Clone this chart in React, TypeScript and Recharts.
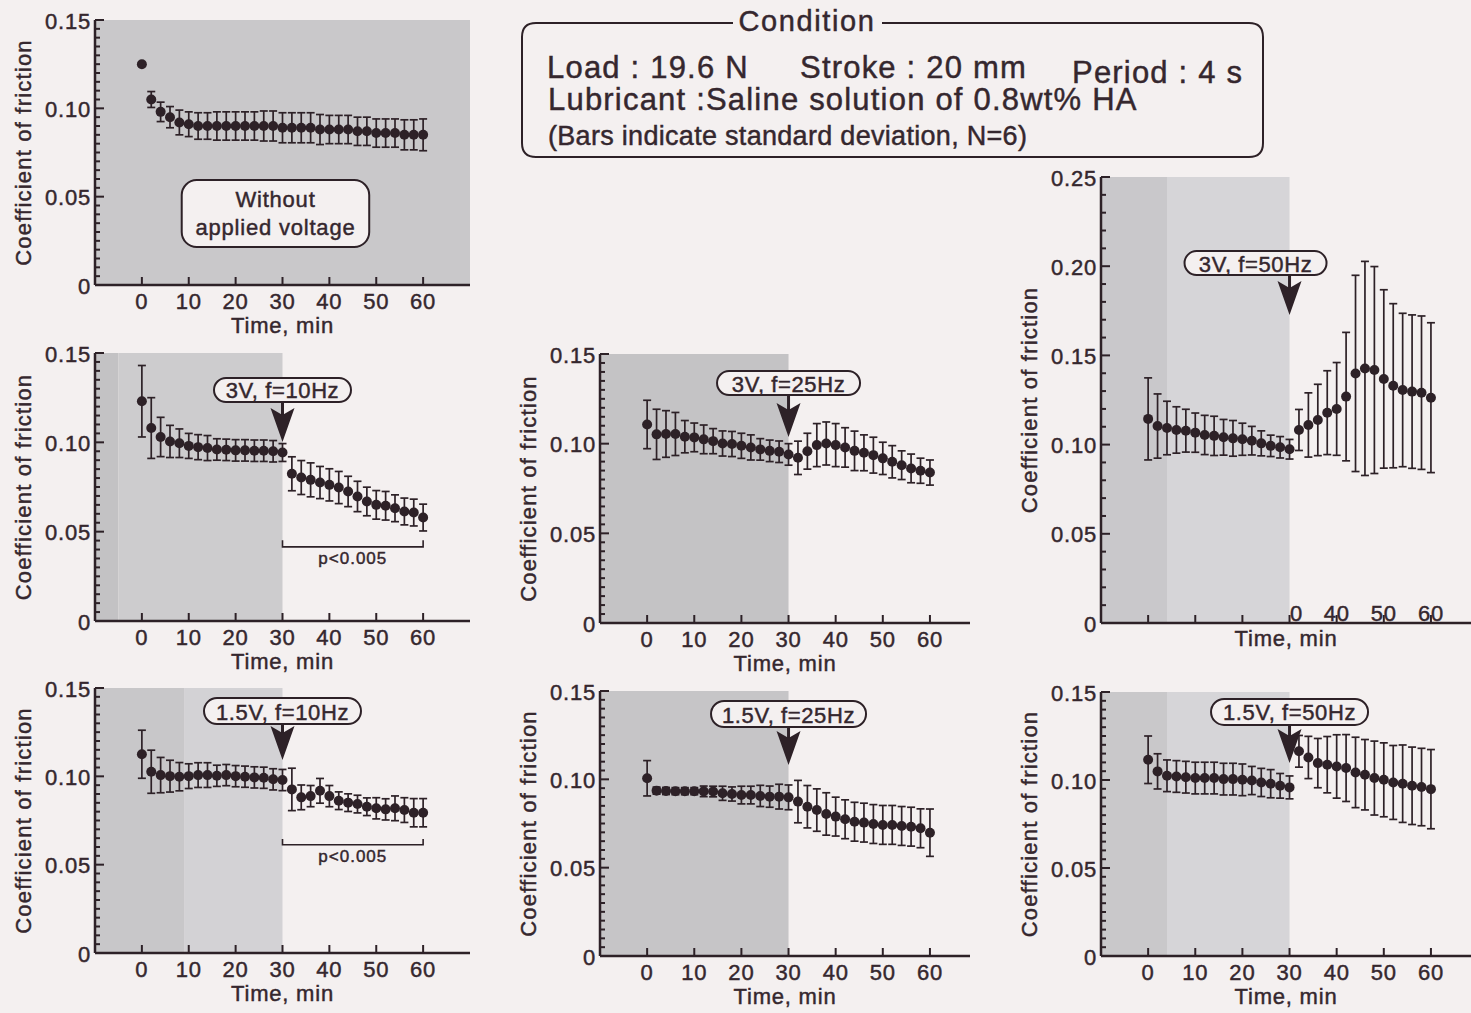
import React from 'react';
import { ComposedChart, Scatter, ErrorBar, XAxis, YAxis, ReferenceArea, ReferenceDot } from 'recharts';

// sampling times (min) shared by every panel
const TIME = [0, 2, 4, 6, 8, 10, 12, 14, 16, 18, 20, 22, 24, 26, 28, 30, 32, 34, 36, 38, 40, 42, 44, 46, 48, 50, 52, 54, 56, 58, 60];
const X_TICKS = [0, 10, 20, 30, 40, 50, 60];
const X_LABELS = ['0', '10', '20', '30', '40', '50', '60'];
// scan of the 3V/50Hz panel only shows part of the time labels
const X_LABELS_CUT = ['', '', '', '0', '40', '50', '60'];

// without applied voltage
const NONE_MEAN = [0.125, 0.105, 0.098, 0.095, 0.092, 0.091, 0.090, 0.090, 0.090, 0.090, 0.090, 0.090, 0.090, 0.090, 0.090, 0.089, 0.089, 0.089, 0.089, 0.088, 0.088, 0.088, 0.088, 0.087, 0.087, 0.086, 0.086, 0.086, 0.085, 0.085, 0.085];
const NONE_SD = [0.001, 0.0045, 0.0055, 0.006, 0.007, 0.007, 0.0075, 0.0075, 0.008, 0.008, 0.008, 0.008, 0.008, 0.0085, 0.0085, 0.0085, 0.0085, 0.0085, 0.0085, 0.0085, 0.008, 0.008, 0.008, 0.008, 0.008, 0.008, 0.008, 0.008, 0.0085, 0.0085, 0.009];

// 3V
const V3_F10_MEAN = [0.123, 0.108, 0.103, 0.1005, 0.0995, 0.098, 0.0973, 0.0968, 0.096, 0.0958, 0.0955, 0.0955, 0.0953, 0.0953, 0.095, 0.0943, 0.0824, 0.0803, 0.079, 0.0775, 0.0762, 0.0747, 0.0725, 0.0697, 0.0669, 0.065, 0.0645, 0.0631, 0.0613, 0.0607, 0.0579];
const V3_F10_SD = [0.02, 0.017, 0.011, 0.009, 0.008, 0.007, 0.007, 0.007, 0.006, 0.006, 0.006, 0.006, 0.006, 0.006, 0.006, 0.005, 0.0095, 0.0095, 0.0095, 0.009, 0.009, 0.009, 0.0085, 0.0085, 0.008, 0.008, 0.008, 0.0075, 0.0075, 0.0075, 0.0075];
const V3_F25_MEAN = [0.1107, 0.1052, 0.1054, 0.1054, 0.1039, 0.1035, 0.1024, 0.1014, 0.1001, 0.0998, 0.0988, 0.0979, 0.0968, 0.096, 0.0955, 0.094, 0.0921, 0.0958, 0.0992, 0.1001, 0.0992, 0.0979, 0.096, 0.0949, 0.0936, 0.0918, 0.0899, 0.088, 0.0862, 0.0849, 0.0839];
const V3_F25_SD = [0.0135, 0.014, 0.013, 0.012, 0.009, 0.008, 0.008, 0.007, 0.007, 0.007, 0.007, 0.007, 0.006, 0.006, 0.006, 0.006, 0.0093, 0.01, 0.012, 0.012, 0.012, 0.011, 0.011, 0.01, 0.01, 0.009, 0.009, 0.008, 0.008, 0.007, 0.007];
const V3_F50_MEAN = [0.1144, 0.1104, 0.1093, 0.1082, 0.1078, 0.1067, 0.1054, 0.1049, 0.1041, 0.1035, 0.103, 0.1022, 0.1007, 0.0993, 0.0985, 0.0974, 0.1082, 0.111, 0.1138, 0.1179, 0.12, 0.1269, 0.1399, 0.1427, 0.1418, 0.1368, 0.133, 0.1306, 0.1297, 0.1291, 0.1263];
const V3_F50_SD = [0.023, 0.018, 0.015, 0.013, 0.012, 0.011, 0.011, 0.011, 0.01, 0.01, 0.009, 0.008, 0.007, 0.006, 0.006, 0.0055, 0.0115, 0.018, 0.02, 0.0235, 0.026, 0.036, 0.055, 0.06, 0.058, 0.05, 0.046, 0.043, 0.043, 0.043, 0.042];

// 1.5V
const V15_F10_MEAN = [0.1125, 0.1026, 0.1007, 0.1001, 0.0998, 0.1001, 0.1007, 0.1007, 0.1003, 0.1007, 0.1001, 0.0998, 0.0994, 0.0992, 0.0983, 0.0979, 0.0926, 0.0881, 0.0888, 0.0918, 0.0888, 0.0862, 0.0851, 0.0843, 0.0828, 0.0819, 0.0813, 0.0819, 0.0809, 0.0794, 0.0794];
const V15_F10_SD = [0.0136, 0.0122, 0.01, 0.009, 0.008, 0.007, 0.007, 0.007, 0.006, 0.006, 0.006, 0.006, 0.006, 0.006, 0.006, 0.006, 0.012, 0.007, 0.006, 0.007, 0.006, 0.005, 0.005, 0.005, 0.005, 0.006, 0.006, 0.007, 0.007, 0.008, 0.008];
const V15_F25_MEAN = [0.1006, 0.0936, 0.0934, 0.0933, 0.0933, 0.0933, 0.0932, 0.0931, 0.0921, 0.0917, 0.0911, 0.0911, 0.0906, 0.0902, 0.0902, 0.0898, 0.0874, 0.0845, 0.0826, 0.0804, 0.0789, 0.0774, 0.076, 0.0755, 0.0747, 0.0742, 0.0742, 0.0736, 0.0732, 0.0723, 0.0698];
const V15_F25_SD = [0.01, 0.002, 0.002, 0.002, 0.002, 0.002, 0.003, 0.003, 0.004, 0.004, 0.005, 0.005, 0.006, 0.006, 0.007, 0.007, 0.012, 0.012, 0.012, 0.012, 0.011, 0.011, 0.011, 0.011, 0.011, 0.011, 0.011, 0.011, 0.011, 0.011, 0.0134];
const V15_F50_MEAN = [0.1115, 0.1049, 0.1024, 0.102, 0.1016, 0.1011, 0.1011, 0.1011, 0.1005, 0.1005, 0.1001, 0.0997, 0.0986, 0.0979, 0.0967, 0.0958, 0.1163, 0.1128, 0.1096, 0.1087, 0.1077, 0.1068, 0.1043, 0.103, 0.1011, 0.1001, 0.0986, 0.0979, 0.0967, 0.096, 0.0948];
const V15_F50_SD = [0.0135, 0.01, 0.009, 0.009, 0.009, 0.009, 0.009, 0.009, 0.009, 0.009, 0.009, 0.008, 0.008, 0.008, 0.007, 0.0065, 0.009, 0.012, 0.014, 0.016, 0.018, 0.019, 0.02, 0.02, 0.021, 0.021, 0.021, 0.022, 0.022, 0.022, 0.0225];

const INK = '#2d2127';
const TXT = '#35272e';
const PAGE = '#f4f0f0';
const FONT = '"Liberation Sans", Arial, Helvetica, sans-serif';

const AXW = 100; // room for y ticks + title
const TP = 15;
const RP = 10;
const BP = 64;

type Pill = { label: string; tip: number; dx: number; w: number; h: number; arrow: number };
type Cfg = {
  key: string;
  left: number; top: number; w: number; h: number;
  xMax: number; yMax: number; minor: number;
  mean: number[]; sd: number[];
  shades: [number, number, string][];
  pill?: Pill;
  bracket?: { y: number; top: number };
  note?: boolean;
  rightFrame: boolean;
  xLabels: string[];
  cut?: boolean;
};

const PANELS: Cfg[] = [
  {
    key: 'none', left: 95, top: 20, w: 375, h: 265, xMax: 70, yMax: 0.15, minor: 0.005,
    mean: NONE_MEAN, sd: NONE_SD, shades: [[-10, 70, '#c9c8ca']], note: true,
    rightFrame: true, xLabels: X_LABELS,
  },
  {
    key: '3v10', left: 95, top: 353, w: 375, h: 268, xMax: 70, yMax: 0.15, minor: 0.005,
    mean: V3_F10_MEAN, sd: V3_F10_SD, shades: [[-10, -5, '#c3c2c4'], [-5, 30, '#cdccce']],
    pill: { label: '3V, f=10Hz', tip: 0.1002, dx: 0, w: 137, h: 24, arrow: 40 },
    bracket: { y: 0.0415, top: 0.0452 }, rightFrame: true, xLabels: X_LABELS,
  },
  {
    key: '3v25', left: 600, top: 354, w: 370, h: 269, xMax: 68.5, yMax: 0.15, minor: 0.005,
    mean: V3_F25_MEAN, sd: V3_F25_SD, shades: [[-10, 30, '#c4c3c5']],
    pill: { label: '3V, f=25Hz', tip: 0.1037, dx: 0, w: 143, h: 24, arrow: 42 },
    rightFrame: false, xLabels: X_LABELS,
  },
  {
    key: '3v50', left: 1101, top: 177, w: 370, h: 446, xMax: 68.5, yMax: 0.25, minor: 0.01,
    mean: V3_F50_MEAN, sd: V3_F50_SD, shades: [[-10, 4, '#c9c8cb'], [4, 30, '#d6d5d8']],
    pill: { label: '3V, f=50Hz', tip: 0.1726, dx: -34, w: 142, h: 24, arrow: 40 },
    rightFrame: false, xLabels: X_LABELS_CUT, cut: true,
  },
  {
    key: '15v10', left: 95, top: 688, w: 375, h: 265, xMax: 70, yMax: 0.15, minor: 0.005,
    mean: V15_F10_MEAN, sd: V15_F10_SD, shades: [[-10, 9, '#c8c7c9'], [9, 30, '#d3d2d5']],
    pill: { label: '1.5V, f=10Hz', tip: 0.1092, dx: 0, w: 157, h: 26, arrow: 36 },
    bracket: { y: 0.0613, top: 0.0645 }, rightFrame: true, xLabels: X_LABELS,
  },
  {
    key: '15v25', left: 600, top: 691, w: 370, h: 265, xMax: 68.5, yMax: 0.15, minor: 0.005,
    mean: V15_F25_MEAN, sd: V15_F25_SD, shades: [[-10, 30, '#c6c5c7']],
    pill: { label: '1.5V, f=25Hz', tip: 0.1081, dx: 0, w: 155, h: 26, arrow: 38 },
    rightFrame: false, xLabels: X_LABELS,
  },
  {
    key: '15v50', left: 1101, top: 692, w: 370, h: 264, xMax: 68.5, yMax: 0.15, minor: 0.005,
    mean: V15_F50_MEAN, sd: V15_F50_SD, shades: [[-10, 4, '#c9c8ca'], [4, 30, '#d6d5d8']],
    pill: { label: '1.5V, f=50Hz', tip: 0.1097, dx: 0, w: 157, h: 26, arrow: 38 },
    rightFrame: false, xLabels: X_LABELS,
  },
];

const isMajor = (v: number) => Math.abs(v / 0.05 - Math.round(v / 0.05)) < 1e-6;
const fmtY = (v: number) => (v === 0 ? '0' : v.toFixed(2));

// scanned lettering is a bit heavier than plain regular weight
const txt = (size: number, ls: number) => ({
  fontFamily: FONT, fontSize: size, letterSpacing: ls, fill: TXT, stroke: TXT, strokeWidth: 0.45,
});

function Panel({ c }: { c: Cfg }) {
  const rows = TIME.map((t, i) => ({ t, m: c.mean[i], sd: c.sd[i] }));
  const yTicks = Array.from({ length: Math.round(c.yMax / c.minor) + 1 }, (_, i) => +(i * c.minor).toFixed(4));
  const yMajors = yTicks.filter(isMajor);
  const W = AXW + c.w + RP;
  const H = TP + c.h + BP;
  const axisStroke = { stroke: INK, strokeWidth: 2.5 };

  const bottomTick = (p: any) => {
    const i = X_TICKS.indexOf(p.payload.value);
    const lab = c.xLabels[i];
    const shift = c.cut && lab === '0' ? 7 : 0;
    return (
      <g>
        <line x1={p.x} x2={p.x} y1={p.y} y2={p.y - 8} stroke={INK} strokeWidth={2} />
        {lab ? (
          <text x={p.x + shift} y={c.cut ? p.y - 10 : p.y + 16} textAnchor="middle" dominantBaseline="central" style={txt(22, 0.8)}>
            {lab}
          </text>
        ) : null}
      </g>
    );
  };
  const topTick = (p: any) => <line x1={p.x} x2={p.x} y1={p.y} y2={p.y + 8} stroke={INK} strokeWidth={2} />;
  const leftTick = (p: any) => {
    const v = p.payload.value;
    const major = isMajor(v);
    return (
      <g>
        <line x1={p.x} x2={p.x + (major ? 9 : 5)} y1={p.y} y2={p.y} stroke={INK} strokeWidth={2} />
        {major ? (
          <text x={p.x - 4} y={p.y + 1} textAnchor="end" dominantBaseline="central" style={txt(22, 0.8)}>
            {fmtY(v)}
          </text>
        ) : null}
      </g>
    );
  };
  const rightTick = (p: any) => {
    const major = isMajor(p.payload.value);
    return <line x1={p.x} x2={p.x - (major ? 9 : 5)} y1={p.y} y2={p.y} stroke={INK} strokeWidth={2} />;
  };

  const yTitle = (p: any) => {
    const vb = p.viewBox;
    const cx = vb.x + vb.width - 72;
    const cy = vb.y + vb.height / 2;
    return (
      <text x={cx} y={cy} transform={`rotate(-90 ${cx} ${cy})`} textAnchor="middle" dominantBaseline="central" style={txt(22, 1.2)}>
        Coefficient of friction
      </text>
    );
  };
  const xTitle = (p: any) => {
    const vb = p.viewBox;
    return (
      <text x={vb.x + vb.width / 2} y={vb.y + (c.cut ? 15 : 40)} textAnchor="middle" dominantBaseline="central" style={txt(22, 0.8)}>
        Time, min
      </text>
    );
  };

  const pill = c.pill;
  const pillShape = (p: any) => {
    if (!pill) return <g />;
    const { cx, cy } = p;
    const base = cy - pill.arrow;
    const top = base - pill.h;
    return (
      <g>
        <line x1={cx} x2={cx} y1={base} y2={cy - 26} stroke={INK} strokeWidth={3} />
        <path d={`M${cx},${cy} L${cx - 12},${cy - 34} L${cx},${cy - 27} L${cx + 12},${cy - 34} Z`} fill={INK} />
        <rect x={cx + pill.dx - pill.w / 2} y={top} width={pill.w} height={pill.h} rx={pill.h / 2} fill={PAGE} stroke={INK} strokeWidth={2} />
        <text x={cx + pill.dx} y={top + pill.h / 2 + 1} textAnchor="middle" dominantBaseline="central" style={txt(22, 0.6)}>
          {pill.label}
        </text>
      </g>
    );
  };

  const noteShape = (p: any) => (
    <g>
      <rect x={p.x} y={p.y} width={p.width} height={p.height} rx={15} fill={PAGE} stroke={INK} strokeWidth={2} />
      <text x={p.x + p.width / 2} y={p.y + 19} textAnchor="middle" dominantBaseline="central" style={txt(22, 0.8)}>
        Without
      </text>
      <text x={p.x + p.width / 2} y={p.y + 47} textAnchor="middle" dominantBaseline="central" style={txt(22, 0.8)}>
        applied voltage
      </text>
    </g>
  );

  const bracketShape = (p: any) => {
    const yb = p.y + p.height;
    return (
      <g>
        <path d={`M${p.x},${p.y} L${p.x},${yb} L${p.x + p.width},${yb} L${p.x + p.width},${p.y}`} fill="none" stroke={INK} strokeWidth={1.6} />
        <text x={p.x + p.width / 2} y={yb + 12} textAnchor="middle" dominantBaseline="central" style={txt(17, 1)}>
          p&lt;0.005
        </text>
      </g>
    );
  };

  return (
    <div style={{ position: 'absolute', left: c.left - AXW, top: c.top - TP }}>
      <ComposedChart width={W} height={H} data={rows} margin={{ top: TP, right: RP, bottom: 0, left: 0 }}>
        {c.shades.map(([a, b, fill], i) => (
          <ReferenceArea key={i} x1={a} x2={b} y1={0} y2={c.yMax} fill={fill} fillOpacity={1} stroke="none" isAnimationActive={false} />
        ))}
        <XAxis
          dataKey="t" type="number" domain={[-10, c.xMax]} ticks={X_TICKS} interval={0} allowDataOverflow
          height={BP} tickSize={0} tickMargin={0} tickLine={false} axisLine={axisStroke} tick={bottomTick} label={xTitle}
        />
        <XAxis
          xAxisId="top" orientation="top" type="number" domain={[-10, c.xMax]} ticks={X_TICKS} interval={0} allowDataOverflow
          height={0} tickSize={0} tickMargin={0} tickLine={false} axisLine={axisStroke} tick={topTick}
        />
        <YAxis
          dataKey="m" type="number" domain={[0, c.yMax]} ticks={yTicks} interval={0} allowDataOverflow
          width={AXW} tickSize={0} tickMargin={0} tickLine={false} axisLine={axisStroke} tick={leftTick} label={yTitle}
        />
        <YAxis
          yAxisId="r" orientation="right" type="number" domain={[0, c.yMax]} ticks={c.rightFrame ? yTicks : yMajors} interval={0}
          allowDataOverflow width={0} tickSize={0} tickMargin={0} tickLine={false} axisLine={c.rightFrame ? axisStroke : false} tick={rightTick}
        />
        {c.note ? <ReferenceArea x1={8.5} x2={48.5} y1={0.0215} y2={0.0594} shape={noteShape} isAnimationActive={false} /> : null}
        {c.bracket ? (
          <ReferenceArea x1={30} x2={60} y1={c.bracket.y} y2={c.bracket.top} shape={bracketShape} isAnimationActive={false} />
        ) : null}
        <Scatter dataKey="m" fill={INK} isAnimationActive={false} shape={(p: any) => <circle cx={p.cx} cy={p.cy} r={5} fill={INK} />}>
          <ErrorBar dataKey="sd" direction="y" width={4} stroke={INK} strokeWidth={1.7} isAnimationActive={false} />
        </Scatter>
        {pill ? <ReferenceDot x={30} y={pill.tip} r={0} shape={pillShape} /> : null}
      </ComposedChart>
    </div>
  );
}

function ConditionBox() {
  const l = 522, r = 1263, t = 23, b = 157, rr = 14;
  const d = `M733,${t} L${l + rr},${t} Q${l},${t} ${l},${t + rr} L${l},${b - rr} Q${l},${b} ${l + rr},${b} L${r - rr},${b} Q${r},${b} ${r},${b - rr} L${r},${t + rr} Q${r},${t} ${r - rr},${t} L882,${t}`;
  return (
    <svg width={1471} height={1013} style={{ position: 'absolute', left: 0, top: 0, pointerEvents: 'none' }}>
      <path d={d} fill="none" stroke={INK} strokeWidth={2} />
      <text x={807} y={21} textAnchor="middle" dominantBaseline="central" style={txt(29, 1.6)}>Condition</text>
      <text x={547} y={78} style={txt(31, 1.2)}>Load : 19.6 N</text>
      <text x={800} y={78} style={txt(31, 1.2)}>Stroke : 20 mm</text>
      <text x={1072} y={83} style={txt(31, 1.2)}>Period : 4 s</text>
      <text x={548} y={110} style={txt(31, 1.2)}>Lubricant :Saline solution of 0.8wt% HA</text>
      <text x={548} y={145} style={txt(27, 0.3)}>(Bars indicate standard deviation, N=6)</text>
    </svg>
  );
}

export default function App() {
  return (
    <div style={{ position: 'absolute', left: 0, top: 0, width: 1471, height: 1013, background: PAGE, overflow: 'hidden', fontFamily: FONT }}>
      {PANELS.map((c) => (
        <Panel key={c.key} c={c} />
      ))}
      <ConditionBox />
    </div>
  );
}
